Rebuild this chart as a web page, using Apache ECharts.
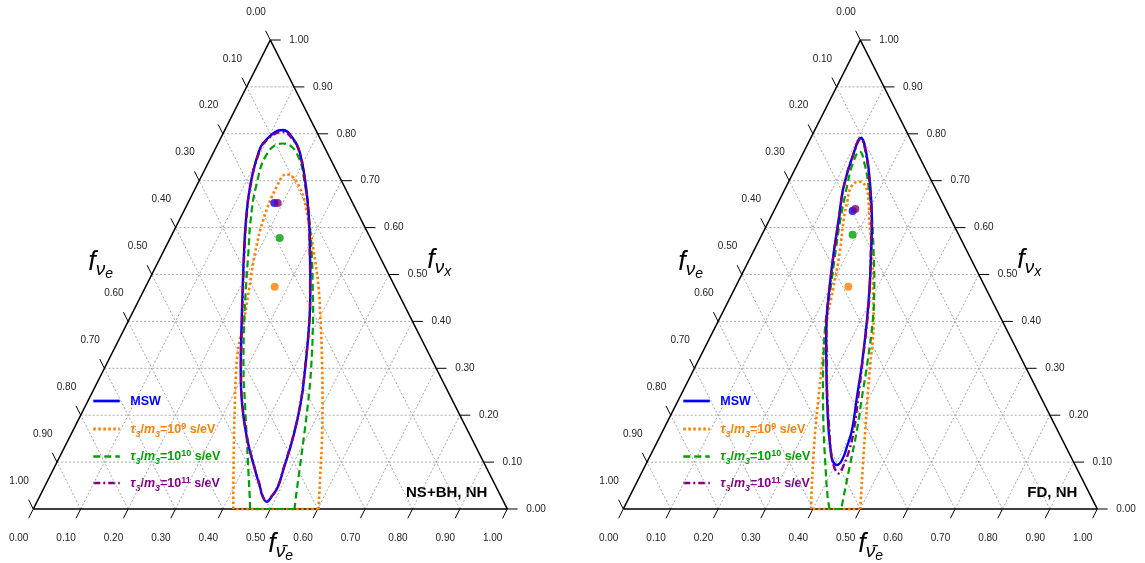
<!DOCTYPE html>
<html><head><meta charset="utf-8">
<script src="https://cdn.jsdelivr.net/npm/echarts@6/dist/echarts.min.js"></script>
<style>html,body{margin:0;padding:0;background:#fff}#c{width:1145px;height:563px}</style>
</head><body><div id="c"></div>
<script>
// ---------- data (ternary points: [f_nubar_e, f_nu_x]; f_nu_e = 1 - both) ----------
const tickValues = [0, 0.1, 0.2, 0.3, 0.4, 0.5, 0.6, 0.7, 0.8, 0.9, 1];
const tickLabels = ['0.00','0.10','0.20','0.30','0.40','0.50','0.60','0.70','0.80','0.90','1.00'];
const panelNames = ['NS+BH, NH', 'FD, NH'];
const seriesNames = ['MSW', 'tau9', 'tau10', 'tau11'];

// closed contours
const nsbhMSW = [[0.3474,0.4740],[0.3812,0.4030],[0.4250,0.2964],[0.4514,0.2254],[0.4714,0.1542],[0.4858,0.0832],[0.4924,0.0475],[0.4897,0.0277],[0.4846,0.0156],[0.4696,0.0277],[0.4545,0.0475],[0.4261,0.0832],[0.3731,0.1542],[0.3276,0.2254],[0.2894,0.2964],[0.2382,0.4030],[0.2048,0.4740],[0.1719,0.5452],[0.1406,0.6162],[0.1136,0.6872],[0.0955,0.7584],[0.0975,0.7868],[0.1216,0.8081],[0.1566,0.7868],[0.1835,0.7584],[0.2317,0.6872],[0.2735,0.6162],[0.3112,0.5452]];
const nsbhTau11 = [[0.3470,0.4740],[0.3808,0.4030],[0.4246,0.2964],[0.4510,0.2254],[0.4708,0.1542],[0.4852,0.0832],[0.4918,0.0475],[0.4892,0.0277],[0.4844,0.0162],[0.4700,0.0277],[0.4550,0.0475],[0.4266,0.0832],[0.3736,0.1542],[0.3282,0.2254],[0.2900,0.2964],[0.2388,0.4030],[0.2054,0.4740],[0.1725,0.5452],[0.1412,0.6162],[0.1142,0.6872],[0.0963,0.7584],[0.0985,0.7850],[0.1235,0.8040],[0.1572,0.7850],[0.1830,0.7584],[0.2312,0.6872],[0.2730,0.6162],[0.3107,0.5452]];
// contours cut by the f_nu_x = 0 edge (from bottom-left end, over the top, to bottom-right end)
const nsbhTau10 = [[0.4572,0],[0.4508,0.0128],[0.4120,0.0832],[0.3731,0.1542],[0.3339,0.2254],[0.2953,0.2964],[0.2436,0.4030],[0.2117,0.4740],[0.1810,0.5452],[0.1505,0.6162],[0.1262,0.6872],[0.1145,0.7584],[0.1360,0.7793],[0.1765,0.7584],[0.2302,0.6872],[0.2742,0.6162],[0.3147,0.5452],[0.3525,0.4740],[0.3886,0.4030],[0.4377,0.2964],[0.4668,0.2254],[0.4938,0.1542],[0.5200,0.0832],[0.5436,0.0192],[0.5511,0]];
const nsbhTau9 = [[0.4219,0],[0.4123,0.0192],[0.3808,0.0832],[0.3498,0.1471],[0.3193,0.2111],[0.2894,0.2751],[0.2624,0.3390],[0.2430,0.4030],[0.2191,0.4740],[0.1951,0.5452],[0.1771,0.6162],[0.1699,0.6872],[0.1774,0.7136],[0.2176,0.6872],[0.2721,0.6162],[0.3196,0.5452],[0.3647,0.4740],[0.4044,0.4030],[0.4503,0.3177],[0.4939,0.2324],[0.5355,0.1471],[0.5643,0.0832],[0.5931,0.0192],[0.6021,0]];
const nsbhDots = [[0.1822,0.6525],[0.2723,0.4740],[0.2309,0.5778],[0.1894,0.6525]]; // MSW, tau9, tau10, tau11

const fdMSW = [[0.2826,0.4740],[0.3126,0.4030],[0.3483,0.3107],[0.3733,0.2394],[0.3983,0.1684],[0.4055,0.1328],[0.4092,0.1045],[0.4039,0.0938],[0.3887,0.1045],[0.3703,0.1328],[0.3489,0.1684],[0.3100,0.2394],[0.2730,0.3107],[0.2274,0.4030],[0.1982,0.4740],[0.1711,0.5452],[0.1461,0.6162],[0.1212,0.6872],[0.1067,0.7584],[0.1056,0.7910],[0.1335,0.7584],[0.1775,0.6872],[0.2166,0.6162],[0.2500,0.5452]];
const fdTau11 = [[0.2830,0.4740],[0.3133,0.4030],[0.3489,0.3107],[0.3761,0.2394],[0.4021,0.1684],[0.4139,0.1258],[0.4183,0.0917],[0.4164,0.0757],[0.3983,0.0917],[0.3749,0.1258],[0.3504,0.1684],[0.3107,0.2394],[0.2740,0.3107],[0.2278,0.4030],[0.1987,0.4740],[0.1715,0.5452],[0.1465,0.6162],[0.1216,0.6872],[0.1071,0.7584],[0.1066,0.7889],[0.1324,0.7584],[0.1764,0.6872],[0.2155,0.6162],[0.2496,0.5452]];
const fdTau10 = [[0.4352,0],[0.4179,0.0262],[0.3775,0.0974],[0.3384,0.1684],[0.3016,0.2394],[0.2666,0.3107],[0.2257,0.4030],[0.2008,0.4740],[0.1747,0.5452],[0.1497,0.6162],[0.1283,0.6872],[0.1164,0.7335],[0.1174,0.7623],[0.1428,0.7335],[0.1739,0.6872],[0.2166,0.6162],[0.2555,0.5452],[0.2925,0.4740],[0.3249,0.4030],[0.3595,0.3107],[0.3839,0.2394],[0.4088,0.1684],[0.4302,0.0974],[0.4517,0.0262],[0.4599,0]];
const fdTau9 = [[0.3962,0],[0.3870,0.0192],[0.3515,0.0974],[0.3209,0.1684],[0.2923,0.2394],[0.2639,0.3107],[0.2282,0.4030],[0.2067,0.4740],[0.1837,0.5452],[0.1567,0.6162],[0.1457,0.6525],[0.1374,0.6872],[0.1490,0.6979],[0.1680,0.6872],[0.1913,0.6525],[0.2109,0.6162],[0.2521,0.5452],[0.2898,0.4740],[0.3266,0.4030],[0.3462,0.3603],[0.3658,0.3107],[0.3957,0.2394],[0.4263,0.1684],[0.4570,0.0974],[0.4915,0.0192],[0.5000,0]];
const fdDots = [[0.1661,0.6354],[0.2377,0.4740],[0.1913,0.5849],[0.1697,0.6397]];

// ---------- styling / layout ----------
const COLORS = {MSW:'#0000ff', tau9:'#ff7f00', tau10:'#00a000', tau11:'#800080'};
const LINESTYLES = {
  tau9:{width:2.6, dash:[2.5,2.5]},
  tau10:{width:2.2, dash:[7,4]},
  MSW:{width:2.4, dash:null},
  tau11:{width:2.4, dash:[7,3,2,3]}
};
const DRAW_ORDER = ['tau9','tau10','MSW','tau11'];
const PANEL_LEFT = [33.3, 623.3], PANEL_TOP = 40, PANEL_W = 474, PANEL_H = 469;
const FONT = '"Liberation Sans", Arial, sans-serif';

const panels = [
  {curves:{MSW:nsbhMSW, tau9:nsbhTau9, tau10:nsbhTau10, tau11:nsbhTau11}, closed:{MSW:true, tau9:false, tau10:false, tau11:true}, dots:nsbhDots},
  {curves:{MSW:fdMSW, tau9:fdTau9, tau10:fdTau10, tau11:fdTau11}, closed:{MSW:true, tau9:false, tau10:false, tau11:true}, dots:fdDots}
];

// ternary -> cartesian (x in base units, y = f_nu_x)
const toXY = p => [p[0] + p[1] / 2, p[1]];

const gridLines = [];
tickValues.slice(1, -1).forEach(k => {
  gridLines.push([0, k, 1 - k, k]);       // const f_nu_x
  gridLines.push([k, 0, k, 1 - k]);       // const f_nubar_e
  gridLines.push([1 - k, 0, 0, 1 - k]);   // const f_nu_e
});
const tickData = [];
tickValues.forEach((v, j) => { tickData.push([0, v, j], [1, v, j], [2, v, j]); });

function renderGrid(params, api) {
  const a = api.coord(toXY([api.value(0), api.value(1)]));
  const b = api.coord(toXY([api.value(2), api.value(3)]));
  return {type:'line', silent:true, shape:{x1:a[0], y1:a[1], x2:b[0], y2:b[1]},
    style:{stroke:'#a8a8a8', lineWidth:1, lineDash:[2,2]}};
}
function unit(a, b) { const dx = b[0]-a[0], dy = b[1]-a[1], l = Math.hypot(dx, dy); return [dx/l, dy/l]; }
function renderTick(params, api) {
  const ax = api.value(0), v = api.value(1), j = api.value(2);
  const A = api.coord([0.5, 1]), BL = api.coord([0, 0]), BR = api.coord([1, 0]);
  let P, d, tx, ty, align = 'center';
  if (ax === 0) { P = api.coord(toXY([v, 0])); d = unit(A, BL); tx = P[0] + d[0]*32.4; ty = P[1] + d[1]*32.4; }
  else if (ax === 1) { P = api.coord(toXY([0, 1 - v])); d = unit(BR, A); tx = P[0] + d[0]*31.5; ty = P[1] + d[1]*31.5; }
  else { P = api.coord(toXY([1 - v, v])); d = [1, 0]; tx = P[0] + 19; ty = P[1]; align = 'left'; }
  const L = 10.4;
  return {type:'group', silent:true, children:[
    {type:'line', shape:{x1:P[0], y1:P[1], x2:P[0]+d[0]*L, y2:P[1]+d[1]*L}, style:{stroke:'#000', lineWidth:1}},
    {type:'text', style:{text:tickLabels[j], x:tx, y:ty, align:align, verticalAlign:'middle',
      fontSize:10, fontFamily:FONT, fill:'#222'}}
  ]};
}
function curveSeries(i, key, pts, closed) {
  const st = LINESTYLES[key];
  const style = {fill:'none', stroke:COLORS[key], lineWidth:st.width, lineDash:st.dash, lineCap:'butt', lineJoin:'round'};
  return {type:'custom', xAxisIndex:i, yAxisIndex:i, z:3, silent:true, data:pts.map(toXY),
    renderItem: (params, api) => {
      if (params.dataIndex !== 0) return null;
      const px = [];
      for (let n = 0; n < pts.length; n++) px.push(api.coord(toXY(pts[n])));
      if (closed) return {type:'polygon', shape:{points:px, smooth:0.45}, style:style};
      const a = px[px.length - 1], b = px[0];
      return {type:'group', children:[
        {type:'polyline', shape:{points:px, smooth:0.45}, style:style},
        {type:'line', shape:{x1:a[0], y1:a[1], x2:b[0], y2:b[1]}, style:style}
      ]};
    }};
}

const grids = [], xAxes = [], yAxes = [], series = [], graphic = [];
panels.forEach((P, i) => {
  grids.push({left:PANEL_LEFT[i], top:PANEL_TOP, width:PANEL_W, height:PANEL_H, show:false});
  xAxes.push({gridIndex:i, type:'value', min:0, max:1, show:false});
  yAxes.push({gridIndex:i, type:'value', min:0, max:1, show:false});
  series.push({type:'custom', xAxisIndex:i, yAxisIndex:i, z:1, silent:true, renderItem:renderGrid, data:gridLines});
  series.push({type:'line', xAxisIndex:i, yAxisIndex:i, z:2, silent:true, symbol:'none', clip:false,
    data:[[0,0],[1,0],[0,1],[0,0]].map(toXY), lineStyle:{color:'#000', width:1.6}});
  series.push({type:'custom', xAxisIndex:i, yAxisIndex:i, z:2, silent:true, renderItem:renderTick, data:tickData});
  DRAW_ORDER.forEach(k => series.push(curveSeries(i, k, P.curves[k], P.closed[k])));
  DRAW_ORDER.forEach(k => {
    const idx = seriesNames.indexOf(k);
    series.push({type:'scatter', xAxisIndex:i, yAxisIndex:i, z:4, silent:true, symbolSize:8,
      itemStyle:{color:COLORS[k]}, data:[toXY(P.dots[idx])]});
  });

  const ox = PANEL_LEFT[i];
  const titleRich = {
    f:{fontSize:27, fontStyle:'italic', fontFamily:FONT, padding:[0,0,5,0], verticalAlign:'bottom'},
    n:{fontSize:19, fontStyle:'italic', fontFamily:FONT, padding:[0,0,2,0], verticalAlign:'bottom'},
    s:{fontSize:14, fontStyle:'italic', fontFamily:FONT, padding:[0,0,0,0], verticalAlign:'bottom'}
  };
  graphic.push({type:'text', x:ox+55, y:281, silent:true, style:{text:'{f|f}{n|ν}{s|e}', rich:titleRich, fill:'#000', align:'left', verticalAlign:'bottom'}});
  graphic.push({type:'text', x:ox+394, y:279, silent:true, style:{text:'{f|f}{n|ν}{s|x}', rich:titleRich, fill:'#000', align:'left', verticalAlign:'bottom'}});
  graphic.push({type:'text', x:ox+235, y:563, silent:true, style:{text:'{f|f}{n|ν\u0304}{s|e}', rich:titleRich, fill:'#000', align:'left', verticalAlign:'bottom'}});
  graphic.push({type:'text', x:ox+454, y:493, silent:true, style:{text:panelNames[i], fontSize:15, fontWeight:'bold', fontFamily:FONT, fill:'#000', align:'right', verticalAlign:'middle'}});
  const rows = [401, 429, 456.5, 483];
  const legendOrder = ['MSW','tau9','tau10','tau11'];
  const expo = {tau9:'9', tau10:'10', tau11:'11'};
  const legRich = {
    t:{fontSize:12.5, fontWeight:'bold', fontFamily:FONT, padding:[0,0,3,0], verticalAlign:'bottom'},
    i:{fontSize:12.5, fontWeight:'bold', fontStyle:'italic', fontFamily:FONT, padding:[0,0,3,0], verticalAlign:'bottom'},
    b:{fontSize:9, fontWeight:'bold', fontStyle:'italic', fontFamily:FONT, padding:[0,0,0,0], verticalAlign:'bottom'},
    p:{fontSize:9, fontWeight:'bold', fontFamily:FONT, padding:[0,0,8,0], verticalAlign:'bottom'}
  };
  legendOrder.forEach((k, r) => {
    const st = LINESTYLES[k];
    graphic.push({type:'line', silent:true, shape:{x1:ox+60, y1:rows[r], x2:ox+86.5, y2:rows[r]},
      style:{stroke:COLORS[k], lineWidth:st.width+0.3, lineDash:st.dash}});
    const txt = k === 'MSW' ? '{t|MSW}' : '{i|τ}{b|3}{t|/}{i|m}{b|3}{t|=10}{p|' + expo[k] + '}{t| s/eV}';
    graphic.push({type:'text', x:ox+97, y:rows[r]+9.9, silent:true,
      style:{text:txt, rich:legRich, fill:COLORS[k], align:'left', verticalAlign:'bottom'}});
  });
});

const chart = echarts.init(document.getElementById('c'), null, {renderer:'canvas'});
chart.setOption({animation:false, backgroundColor:'#fff', grid:grids, xAxis:xAxes, yAxis:yAxes, series:series, graphic:graphic});
</script></body></html>
